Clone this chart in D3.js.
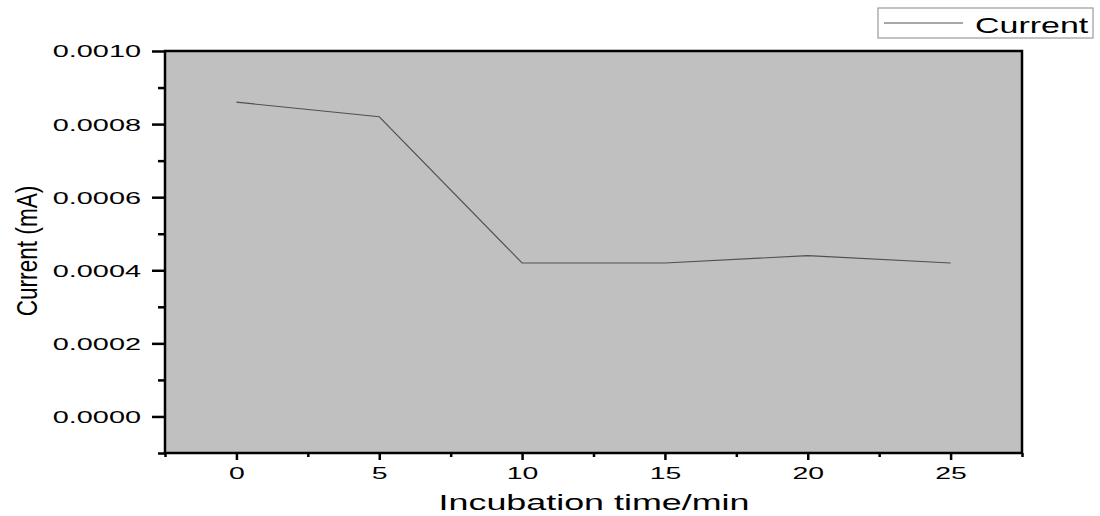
<!DOCTYPE html>
<html><head><meta charset="utf-8">
<script src="https://cdn.jsdelivr.net/npm/d3@7"></script>
<style>body{margin:0;background:#fff}svg{display:block}text{font-family:"Liberation Sans",Arial,sans-serif}</style>
</head><body><svg id="c" width="1100" height="516"></svg>
<script>
const times = [0, 5, 10, 15, 20, 25];
const current = [0.00086, 0.00082, 0.00042, 0.00042, 0.00044, 0.00042];
const xTicks = [0, 5, 10, 15, 20, 25];
const yTicks = [0, 0.0002, 0.0004, 0.0006, 0.0008, 0.0010];
const xMinor = [-2.5, 2.5, 7.5, 12.5, 17.5, 22.5, 27.5];
const yMinor = [-0.0001, 0.0001, 0.0003, 0.0005, 0.0007, 0.0009];

const svg = d3.select("#c");
const L = 165, R = 1022, T = 51, B = 453;
const x = d3.scaleLinear().domain([-2.5, 27.5]).range([L, R]);
const y = d3.scaleLinear().domain([-0.0001, 0.0010]).range([B, T]);

svg.append("rect").attr("x", L).attr("y", T).attr("width", R - L).attr("height", B - T).attr("fill", "#c0c0c0");

svg.append("path").datum(times.map((t, i) => [t, current[i]]))
  .attr("fill", "none").attr("stroke", "#505050").attr("stroke-width", 1.1)
  .attr("d", d3.line().x(d => x(d[0])).y(d => y(d[1])));

// frame
svg.append("rect").attr("x", L).attr("y", T).attr("width", R - L).attr("height", B - T)
  .attr("fill", "none").attr("stroke", "#000").attr("stroke-width", 2.5);

const xa = svg.append("g").attr("transform", `translate(0,${B})`)
  .call(d3.axisBottom(x).tickValues(xTicks).tickSize(7).tickFormat(d3.format("d")));
const xm = svg.append("g").attr("transform", `translate(0,${B})`)
  .call(d3.axisBottom(x).tickValues(xMinor).tickSize(4).tickFormat(""));
const ya = svg.append("g").attr("transform", `translate(${L},0)`)
  .call(d3.axisLeft(y).tickValues(yTicks).tickSize(13).tickFormat(d3.format(".4f")));
const ym = svg.append("g").attr("transform", `translate(${L},0)`)
  .call(d3.axisLeft(y).tickValues(yMinor).tickSize(7).tickFormat(""));
[xa, xm, ya, ym].forEach(g => {
  g.select(".domain").remove();
  g.selectAll("line").attr("stroke", "#000").attr("stroke-width", 2.5);
  g.selectAll("text").attr("fill", "#000").style("font-size", "16.5px");
});
xa.selectAll("text").attr("x", 0).attr("y", 0).attr("dy", null)
  .attr("transform", `translate(0,${479 - B}) scale(1.72,1)`);
ya.selectAll("text").attr("x", 0).attr("dy", "0.36em")
  .attr("transform", "translate(-24,0) scale(1.75,1)");

svg.append("text").attr("transform", "translate(594,510) scale(1.63,1)").attr("text-anchor", "middle")
  .style("font-size", "22px").text("Incubation time/min");
svg.append("text").attr("transform", "translate(37,251) rotate(-90) scale(0.78,1)")
  .attr("text-anchor", "middle").style("font-size", "29px").text("Current (mA)");

// legend
const lg = svg.append("g");
lg.append("rect").attr("x", 878).attr("y", 8).attr("width", 215).attr("height", 30)
  .attr("fill", "#fff").attr("stroke", "#999").attr("stroke-width", 1.2);
lg.append("line").attr("x1", 884).attr("x2", 963).attr("y1", 23).attr("y2", 23)
  .attr("stroke", "#505050").attr("stroke-width", 1);
lg.append("text").attr("transform", "translate(975,33) scale(1.58,1)").style("font-size", "21.5px").text("Current");
</script></body></html>
